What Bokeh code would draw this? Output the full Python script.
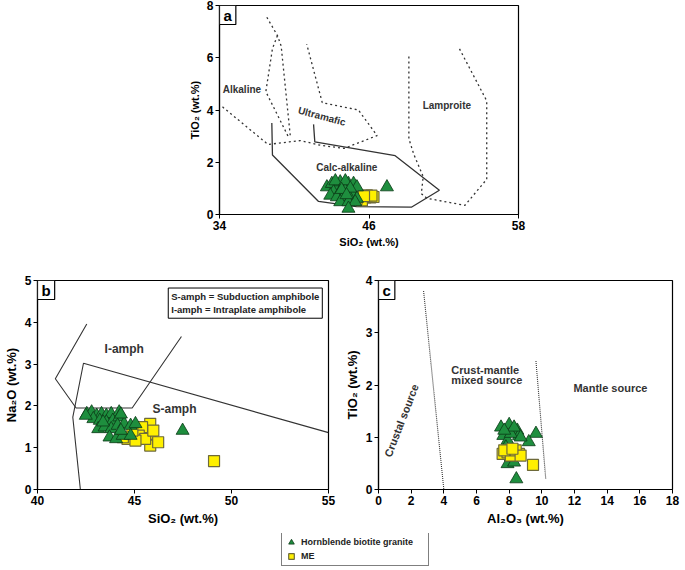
from bokeh.plotting import figure
from bokeh.models import Range1d, FixedTicker, Label, Legend, LegendItem
from bokeh.layouts import column, row
from bokeh.embed import file_html
from bokeh.resources import INLINE
from bokeh.core.properties import value

FONT = "Liberation Sans"
GREEN = "#1e8e3e"
GREEN_LINE = "#0b3a16"
YELLOW = "#fff000"
YELLOW_LINE = "#6e6a3a"
LINE = "#333333"

# ---------------- Panel a : TiO2 vs SiO2 ----------------
a_hbg_sio2 = [42.62, 43.02, 43.42, 43.69, 43.95, 44.35, 44.76, 45.03, 43.15, 43.69,
              44.09, 44.63, 42.89, 43.42, 43.95, 44.49, 45.03, 43.69, 44.35, 44.89,
              44.35, 47.44, 43.3, 44.1, 44.5, 43.8, 44.2]
a_hbg_tio2 = [1.05, 1.18, 1.05, 1.24, 1.11, 1.18, 1.18, 1.05, 0.86, 0.86,
              0.92, 0.80, 0.73, 0.67, 0.67, 0.61, 0.61, 0.48, 0.48, 0.48,
              0.23, 1.05, 1.28, 1.28, 1.0, 0.95, 0.75]
a_me_sio2 = [44.89, 45.29, 45.70, 46.10, 46.36, 45.83, 45.43, 45.00, 46.20, 45.60]
a_me_tio2 = [0.67, 0.67, 0.65, 0.65, 0.67, 0.73, 0.54, 0.60, 0.72, 0.70]

a_alk_x = [34.24, 37.9, 39.6, 40.5, 42.1, 44.0, 46.65, 45.15, 42.25, 41.0]
a_alk_y = [4.12, 2.68, 2.78, 2.83, 2.65, 2.53, 3.02, 4.0, 4.28, 6.52]
a_lens1_x = [37.8, 38.65, 38.95, 39.7]
a_lens1_y = [7.55, 6.85, 6.45, 2.92]
a_lens2_x = [38.65, 38.25, 37.72, 39.5]
a_lens2_y = [6.85, 6.35, 4.7, 3.0]
a_lamp_x = [49.2, 49.2, 49.6, 50.35, 50.2, 50.65, 53.7, 55.45, 55.45, 53.2]
a_lamp_y = [6.05, 2.9, 2.3, 1.45, 0.8, 0.62, 0.35, 1.35, 4.35, 6.4]
a_calc_x = [38.2, 38.25, 41.95, 45.0, 49.4, 51.65, 48.1, 41.65, 41.55]
a_calc_y = [3.5, 2.28, 0.5, 0.3, 0.28, 0.93, 2.25, 2.78, 3.45]
a_xticks = [34, 46, 58]
a_yticks = [0, 2, 4, 6, 8]

# ---------------- Panel b : Na2O vs SiO2 ----------------
b_hbg_sio2 = [42.54, 42.79, 43.05, 43.30, 43.55, 43.80, 44.21, 42.88, 43.21, 43.55,
              43.88, 44.21, 43.13, 43.46, 43.80, 44.13, 44.47, 44.80, 45.05, 43.71,
              44.05, 44.39, 44.80, 47.48, 44.30, 43.38, 42.49, 44.30]
b_hbg_na2o = [1.81, 1.85, 1.77, 1.81, 1.77, 1.81, 1.85, 1.69, 1.65, 1.61,
              1.65, 1.73, 1.45, 1.49, 1.45, 1.53, 1.57, 1.53, 1.57, 1.25,
              1.21, 1.29, 1.29, 1.41, 1.41, 1.61, 1.77, 1.80]
b_me_sio2 = [45.81, 45.81, 45.81, 46.22, 45.39, 45.22, 45.55, 44.64, 45.05, 45.97,
             44.89, 49.10, 44.40]
b_me_na2o = [1.57, 1.33, 1.05, 1.13, 1.49, 1.29, 1.21, 1.21, 1.17, 1.41,
             1.41, 0.68, 1.25]
b_iamph_x = [42.54, 40.92, 41.99, 44.88, 47.42]
b_iamph_y = [3.96, 2.65, 1.95, 1.95, 3.66]
b_samph_x = [42.21, 41.82, 42.37, 55.0]
b_samph_y = [0.0, 1.73, 3.02, 1.36]
b_xticks = [40, 45, 50, 55]
b_yticks = [0, 1, 2, 3, 4, 5]

# ---------------- Panel c : TiO2 vs Al2O3 ----------------
c_hbg_al2o3 = [8.0, 7.5, 8.5, 7.64, 7.9, 8.6, 9.64, 9.2, 8.44, 7.9,
               8.3, 7.8, 8.2, 8.1, 8.3, 7.7, 8.7, 8.1]
c_hbg_tio2 = [1.24, 1.19, 1.13, 1.03, 0.94, 1.03, 1.07, 0.91, 0.20, 0.49,
              0.52, 0.81, 0.75, 1.07, 1.19, 1.13, 1.00, 0.62]
c_me_al2o3 = [7.6, 7.9, 8.3, 8.6, 8.1, 8.4, 7.7, 9.46, 8.7, 8.2]
c_me_tio2 = [0.68, 0.71, 0.68, 0.68, 0.65, 0.75, 0.75, 0.47, 0.65, 0.78]
c_line1_x = [2.76, 4.0]
c_line1_y = [3.8, 0.0]
c_line2_x = [9.64, 10.24]
c_line2_y = [2.46, 0.2]
c_xticks = [0, 2, 4, 6, 8, 10, 12, 14, 16, 18]
c_yticks = [0, 1, 2, 3, 4]


def styled(xr, yr, xticks, yticks, xlabel, ylabel, fw, fh, bl, br, bt, bb, label_size):
    p = figure(x_range=Range1d(*xr), y_range=Range1d(*yr),
               frame_width=fw, frame_height=fh,
               min_border_left=bl, min_border_right=br,
               min_border_top=bt, min_border_bottom=bb,
               output_backend="svg", toolbar_location=None)
    p.grid.visible = False
    p.outline_line_color = "black"
    p.outline_line_width = 1.2
    p.xaxis.ticker = FixedTicker(ticks=xticks)
    p.yaxis.ticker = FixedTicker(ticks=yticks)
    p.xaxis.axis_label = xlabel
    p.yaxis.axis_label = ylabel
    for ax in p.axis:
        ax.axis_line_color = "black"
        ax.axis_line_width = 1.2
        ax.major_tick_line_color = "black"
        ax.major_tick_in = 0
        ax.major_tick_out = 4
        ax.minor_tick_line_color = None
        ax.major_label_text_font = FONT
        ax.major_label_text_font_style = "bold"
        ax.major_label_text_font_size = "12px"
        ax.major_label_text_color = "black"
        ax.major_label_standoff = 2
        ax.axis_label_text_font = FONT
        ax.axis_label_text_font_style = "bold"
        ax.axis_label_text_font_size = label_size
        ax.axis_label_text_color = "black"
        ax.axis_label_standoff = 3
    return p


def tag(p, txt, x, y):
    p.add_layout(Label(x=x, y=y, text=txt, text_align="left", text_baseline="top",
                       text_font=FONT, text_font_style="bold", text_font_size="15px",
                       text_color="black",
                       border_line_color="black", border_line_width=1.2,
                       background_fill_color="white", padding=(4, 1)))


def region_text(p, x, y, t, size, angle=0.0, align="center"):
    p.text(x=[x], y=[y], text=[t], angle=angle, text_font=value(FONT),
           text_font_style="bold", text_font_size=size, text_color="#333333",
           text_align=align, text_baseline="middle")


def add_squares(p, mx, my):
    return p.scatter(mx, my, marker="square", size=11, fill_color=YELLOW,
                     line_color=YELLOW_LINE, line_width=1.2)


def add_triangles(p, hx, hy):
    return p.scatter(hx, hy, marker="triangle", size=13, fill_color=GREEN,
                     line_color=GREEN_LINE, line_width=0.8)


# ---- panel a
pa = styled((34, 58), (0, 8), a_xticks, a_yticks, "SiO\u2082 (wt.%)", "TiO\u2082 (wt.%)",
            299, 209, 219, 20, 5, 58, "11px")
dash = dict(line_color=LINE, line_width=1.3, line_dash="2 3")
pa.line(a_alk_x, a_alk_y, **dash)
pa.line(a_lens1_x, a_lens1_y, **dash)
pa.line(a_lens2_x, a_lens2_y, **dash)
pa.line(a_lamp_x, a_lamp_y, **dash)
pa.line(a_calc_x, a_calc_y, line_color=LINE, line_width=1.3)
region_text(pa, 35.8, 4.79, "Alkaline", "10px")
region_text(pa, 42.22, 3.76, "Ultramafic", "10px", angle=-0.26)
region_text(pa, 52.25, 4.16, "Lamproite", "10px")
region_text(pa, 44.22, 1.81, "Calc-alkaline", "10px")
add_squares(pa, a_me_sio2, a_me_tio2)
add_triangles(pa, a_hbg_sio2, a_hbg_tio2)
tag(pa, "a", 34, 8)

# ---- panel b
pb = styled((40, 55), (0, 5), b_xticks, b_yticks, "SiO\u2082 (wt.%)", "Na\u2082O (wt.%)",
            291, 209, 29, 8, 8, 44, "13px")
pb.line(b_iamph_x, b_iamph_y, line_color=LINE, line_width=1.1)
pb.line(b_samph_x, b_samph_y, line_color=LINE, line_width=1.1)
region_text(pb, 44.47, 3.37, "I-amph", "12px")
region_text(pb, 47.06, 1.93, "S-amph", "12px")
add_squares(pb, b_me_sio2, b_me_na2o)
add_triangles(pb, b_hbg_sio2, b_hbg_na2o)
pb.add_layout(Label(x=46.74, y=4.82, text="S-amph = Subduction amphibole\nI-amph = Intraplate amphibole",
                    text_align="left", text_baseline="top", text_font=FONT,
                    text_font_style="bold", text_font_size="9.5px", text_color="#222222",
                    border_line_color="black", border_line_width=1,
                    background_fill_color="white", padding=3))
tag(pb, "b", 40, 5)

# ---- panel c
pc = styled((0, 18), (0, 4), c_xticks, c_yticks, "Al\u2082O\u2083 (wt.%)", "TiO\u2082 (wt.%)",
            294, 209, 42, 10, 8, 44, "13px")
dot = dict(line_color=LINE, line_width=1.1, line_dash="1 1")
pc.line(c_line1_x, c_line1_y, **dot)
pc.line(c_line2_x, c_line2_y, **dot)
region_text(pc, 1.4, 1.32, "Crustal source", "11px", angle=1.2)
region_text(pc, 4.46, 2.29, "Crust-mantle", "11px", align="left")
region_text(pc, 4.46, 2.09, "mixed source", "11px", align="left")
region_text(pc, 14.2, 1.94, "Mantle source", "11px")
add_triangles(pc, c_hbg_al2o3, c_hbg_tio2)
add_squares(pc, c_me_al2o3, c_me_tio2)
tag(pc, "c", 0, 4)

# ---- legend strip (glyph renderers sit outside this strip's visible range)
lf = figure(frame_width=680, frame_height=34, x_range=Range1d(0, 1), y_range=Range1d(0, 1),
            x_axis_location=None, y_axis_location=None, min_border=0,
            output_backend="svg", toolbar_location=None)
lf.outline_line_color = None
lf.grid.visible = False
r1 = add_triangles(lf, a_hbg_sio2, a_hbg_tio2)
r2 = add_squares(lf, a_me_sio2, a_me_tio2)
leg = Legend(items=[LegendItem(label="Hornblende biotite granite", renderers=[r1]),
                    LegendItem(label="ME", renderers=[r2])],
             location=(281, 1), orientation="vertical",
             border_line_color="black", border_line_width=1,
             label_text_font=FONT, label_text_font_style="bold",
             label_text_font_size="9px", label_text_color="#222222",
             glyph_width=14, glyph_height=14, label_height=12, label_width=125,
             label_standoff=3, spacing=0, padding=2, margin=0)
lf.add_layout(leg)

layout = column(pa, row(pb, pc), lf)
open("out.html", "w").write(file_html(layout, INLINE))
